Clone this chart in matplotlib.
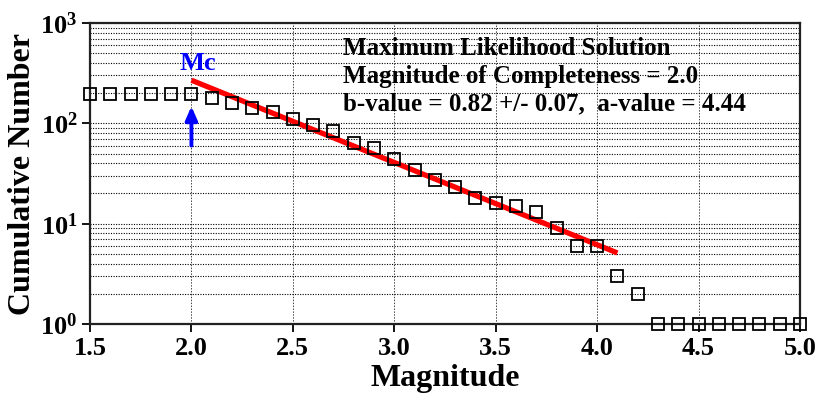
import matplotlib
matplotlib.use("Agg")
import matplotlib.pyplot as plt
import numpy as np
from matplotlib.ticker import FixedLocator, FuncFormatter, LogLocator, NullFormatter

plt.rcParams['font.family'] = ['Liberation Serif', 'DejaVu Serif']
plt.rcParams['font.weight'] = 'bold'
plt.rcParams['mathtext.fontset'] = 'custom'
plt.rcParams['mathtext.rm'] = 'Liberation Serif:bold'
plt.rcParams['mathtext.bf'] = 'Liberation Serif:bold'
plt.rcParams['mathtext.it'] = 'Liberation Serif:bold:italic'

# Data
magnitudes = [1.5, 1.6, 1.7, 1.8, 1.9, 2.0, 2.1, 2.2, 2.3, 2.4, 2.5, 2.6, 2.7, 2.8, 2.9,
              3.0, 3.1, 3.2, 3.3, 3.4, 3.5, 3.6, 3.7, 3.8, 3.9, 4.0, 4.1, 4.2, 4.3, 4.4,
              4.5, 4.6, 4.7, 4.8, 4.9, 5.0]
cum_number = [196, 196, 196, 196, 196, 196, 179, 160, 142, 129, 110, 96, 84, 64, 57,
              44, 34, 27, 23, 18, 16, 15, 13, 9, 6, 6, 3, 2, 1, 1,
              1, 1, 1, 1, 1, 1]
mc = 2.0
b_value = 0.82
fit_intercept = 4.07          # log10 N = fit_intercept - b_value * M (as drawn)
fit_range = [2.0, 4.1]
arrow_from, arrow_to = 60, 148
x_ticks = [1.5, 2.0, 2.5, 3.0, 3.5, 4.0, 4.5, 5.0]
text_lines = ["Maximum Likelihood Solution",
              "Magnitude of Completeness = 2.0",
              "b-value = 0.82 +/- 0.07,  a-value = 4.44"]
text_y = [560, 295, 155]

fig = plt.figure(figsize=(8.18, 4.04), dpi=100)
ax = fig.add_axes([0.110, 0.198, 0.868, 0.745])
ax.set_yscale('log')
ax.set_xlim(1.5, 5.0)
ax.set_ylim(1, 1000)

ax.grid(True, which='both', axis='y', linestyle=(0, (1, 1.3)), color='black', linewidth=0.8)
ax.grid(True, which='major', axis='x', linestyle=(0, (1.5, 1.5)), color='#444444', linewidth=0.7)

fm = np.array(fit_range)
ax.plot(fm, 10 ** (fit_intercept - b_value * fm), color='red', linewidth=3.8, solid_capstyle='butt', zorder=3)

ax.plot(magnitudes, cum_number, linestyle='none', marker='s', markersize=8,
        markerfacecolor='none', markeredgecolor='black', markeredgewidth=1.3,
        clip_on=False, zorder=4)

ax.annotate('', xy=(mc, arrow_to), xytext=(mc, arrow_from),
            arrowprops=dict(arrowstyle='-|>,head_length=0.8,head_width=0.35', color='blue', lw=2.8,
                            shrinkA=0, shrinkB=0))
ax.text(1.94, 300, 'Mc', color='blue', fontsize=19, fontweight='bold', ha='left', va='bottom')

for t, yv in zip(text_lines, text_y):
    ax.text(2.747, yv, t, fontsize=18, fontweight='bold', ha='left', va='center', color='black')

ax.xaxis.set_major_locator(FixedLocator(x_ticks))
ax.xaxis.set_major_formatter(FuncFormatter(lambda v, p: f"{v:.1f}"))
ax.yaxis.set_major_locator(LogLocator(base=10, numticks=10))
ax.yaxis.set_minor_locator(LogLocator(base=10, subs=np.arange(2, 10), numticks=20))
ax.yaxis.set_minor_formatter(NullFormatter())
ax.yaxis.set_major_formatter(FuncFormatter(lambda v, p: r'$\mathbf{10^{%d}}$' % int(round(np.log10(v)))))

ax.tick_params(axis='both', which='major', direction='out', length=6, width=1.3, labelsize=19, colors='black')
ax.tick_params(axis='y', which='major', pad=3)
ax.tick_params(axis='y', which='minor', direction='out', length=0)
for s in ax.spines.values():
    s.set_linewidth(1.6)
    s.set_color('#222222')

ax.set_xlabel('Magnitude', fontsize=23, fontweight='bold', labelpad=3)
ax.set_ylabel('Cumulative Number', fontsize=23, fontweight='bold', labelpad=2)

fig.savefig('out.png', dpi=100)
